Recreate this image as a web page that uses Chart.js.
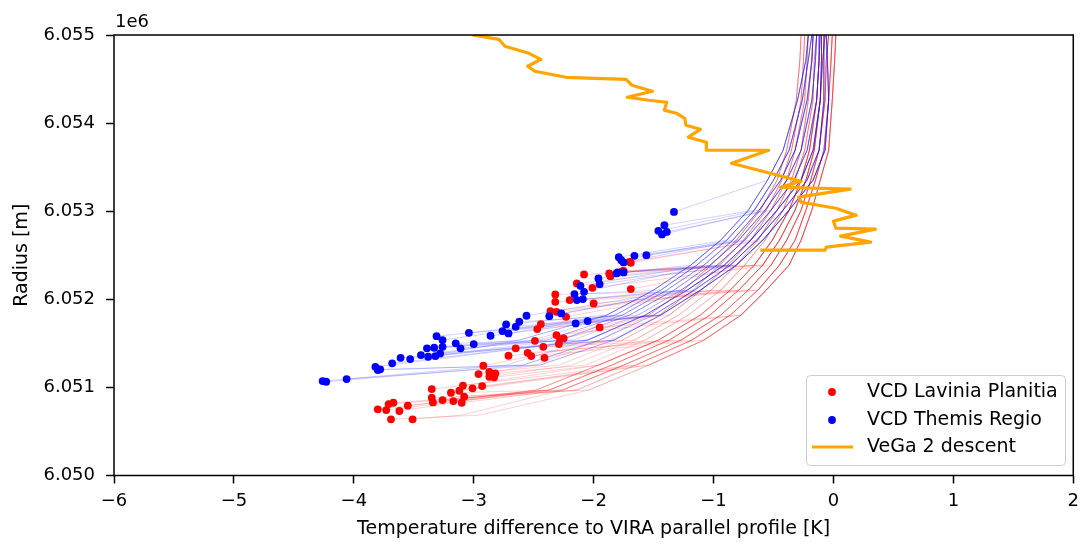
<!DOCTYPE html>
<html>
<head>
<meta charset="utf-8">
<script src="https://cdn.jsdelivr.net/npm/chart.js@4.4.1/dist/chart.umd.min.js"></script>
<style>
  html, body { margin: 0; padding: 0; background: #fff; }
  #chart { display: block; }
</style>
</head>
<body>
<canvas id="chart" width="1086" height="544"></canvas>
<script>
// axis ticks
var xTicks = [-6, -5, -4, -3, -2, -1, 0, 1, 2];
var xTickLabels = ['\u22126', '\u22125', '\u22124', '\u22123', '\u22122', '\u22121', '0', '1', '2'];
var yTicks = [6050000, 6051000, 6052000, 6053000, 6054000, 6055000];
var yTickLabels = ['6.050', '6.051', '6.052', '6.053', '6.054', '6.055'];
var seriesNames = ['VCD Lavinia Planitia', 'VCD Themis Regio', 'VeGa 2 descent'];

// surface points [temperature difference K, radius m]
var laviniaDots = [
    [-3.80, 6050751], [-3.73, 6050743], [-3.71, 6050811], [-3.67, 6050826], [-3.69, 6050638],
    [-3.62, 6050732], [-3.55, 6050792], [-3.51, 6050638], [-3.35, 6050981], [-3.35, 6050883],
    [-3.34, 6050830], [-3.26, 6050856], [-3.19, 6050939], [-3.17, 6050845], [-3.12, 6050962],
    [-3.09, 6051019], [-3.08, 6050894], [-3.10, 6050826], [-3.01, 6050989], [-2.93, 6051015],
    [-2.96, 6051151], [-2.92, 6051246], [-2.87, 6051177], [-2.87, 6051121], [-2.82, 6051159],
    [-2.83, 6051114], [-2.71, 6051359], [-2.65, 6051443], [-2.55, 6051393], [-2.52, 6051356],
    [-2.49, 6051529], [-2.47, 6051662], [-2.44, 6051719], [-2.42, 6051461], [-2.41, 6051336],
    [-2.36, 6051866], [-2.31, 6051858], [-2.32, 6052055], [-2.32, 6051971], [-2.31, 6051594],
    [-2.28, 6051545], [-2.25, 6051556], [-2.29, 6051492], [-2.23, 6051801], [-2.20, 6051991],
    [-2.14, 6052180], [-2.08, 6052282], [-2.01, 6052130], [-2.00, 6051953], [-1.95, 6051681],
    [-1.87, 6052294], [-1.86, 6052263], [-1.75, 6052323], [-1.69, 6052414], [-1.70, 6052425],
    [-1.69, 6052116], [-1.76, 6052320]
];
var themisDots = [
    [-4.26, 6051072], [-4.23, 6051064], [-4.06, 6051095], [-3.82, 6051234], [-3.80, 6051197],
    [-3.78, 6051205], [-3.68, 6051273], [-3.61, 6051336], [-3.53, 6051322], [-3.44, 6051367],
    [-3.39, 6051443], [-3.38, 6051348], [-3.33, 6051450], [-3.32, 6051356], [-3.31, 6051582],
    [-3.28, 6051386], [-3.26, 6051461], [-3.26, 6051537], [-3.15, 6051500], [-3.11, 6051443],
    [-3.04, 6051620], [-3.00, 6051492], [-2.86, 6051586], [-2.76, 6051639], [-2.73, 6051715],
    [-2.71, 6051613], [-2.65, 6051688], [-2.62, 6051745], [-2.56, 6051813], [-2.37, 6051809],
    [-2.27, 6051840], [-2.15, 6051726], [-2.05, 6051753], [-2.16, 6052059], [-2.11, 6052153],
    [-2.08, 6052085], [-2.09, 6052002], [-2.14, 6051991], [-1.96, 6052237], [-1.95, 6052172],
    [-1.81, 6052294], [-1.79, 6052478], [-1.77, 6052444], [-1.75, 6052418], [-1.66, 6052493],
    [-1.56, 6052501], [-1.80, 6052305], [-1.75, 6052305], [-1.33, 6052992], [-1.41, 6052841],
    [-1.46, 6052777], [-1.43, 6052736], [-1.39, 6052765]
];

var profileRadii = [6055000, 6054713, 6054259, 6053692, 6053352, 6053012, 6052671,
    6052388, 6052104, 6051821, 6051537, 6051253, 6050970, 6050686];

// Themis Regio profiles, temperature difference at each radius, left edge of bundle first
var themisBundle = [
    [-0.21, -0.23, -0.30, -0.42, -0.55, -0.71, -0.94, -1.19, -1.50, -1.89, -2.62, -3.45],
    [-0.18, -0.21, -0.26, -0.37, -0.50, -0.66, -0.89, -1.14, -1.44, -1.82, -2.50, -3.31],
    [-0.17, -0.18, -0.22, -0.32, -0.44, -0.62, -0.84, -1.08, -1.39, -1.76, -2.39, -3.17],
    [-0.14, -0.15, -0.18, -0.27, -0.39, -0.57, -0.79, -1.03, -1.33, -1.70, -2.28, -3.03],
    [-0.12, -0.12, -0.14, -0.22, -0.33, -0.52, -0.74, -0.97, -1.27, -1.63, -2.17, -2.88],
    [-0.10, -0.10, -0.11, -0.17, -0.27, -0.47, -0.69, -0.91, -1.22, -1.57, -2.05, -2.73],
    [-0.08, -0.08, -0.08, -0.12, -0.22, -0.42, -0.64, -0.86, -1.16, -1.50, -1.95, -2.59],
    [-0.06, -0.05, -0.04, -0.07, -0.17, -0.37, -0.59, -0.81, -1.11, -1.44, -1.83, -2.45]
];

// Lavinia Planitia profiles
var laviniaBundle = [
    [-0.27, -0.28, -0.31, -0.39, -0.47, -0.61, -0.81, -1.02, -1.25, -1.54, -1.95, -2.49, -3.03, -3.62],
    [-0.24, -0.25, -0.27, -0.35, -0.43, -0.56, -0.75, -0.95, -1.17, -1.45, -1.85, -2.39, -2.93, -3.54],
    [-0.21, -0.22, -0.24, -0.32, -0.39, -0.52, -0.69, -0.88, -1.10, -1.37, -1.76, -2.29, -2.82, -3.47],
    [-0.17, -0.18, -0.21, -0.27, -0.35, -0.47, -0.63, -0.81, -1.02, -1.29, -1.66, -2.18, -2.70, -3.40],
    [-0.14, -0.16, -0.17, -0.24, -0.32, -0.42, -0.57, -0.74, -0.94, -1.21, -1.57, -2.07, -2.59, -3.33],
    [-0.11, -0.12, -0.14, -0.20, -0.27, -0.37, -0.51, -0.66, -0.86, -1.11, -1.46, -1.96, -2.48, -3.24],
    [-0.07, -0.09, -0.11, -0.16, -0.23, -0.32, -0.45, -0.59, -0.79, -1.03, -1.37, -1.85, -2.37, -3.17],
    [-0.04, -0.06, -0.07, -0.12, -0.19, -0.27, -0.39, -0.52, -0.71, -0.94, -1.27, -1.75, -2.26, -3.10],
    [-0.01, -0.02, -0.04, -0.08, -0.15, -0.23, -0.32, -0.45, -0.63, -0.86, -1.18, -1.65, -2.14, -3.03],
    [0.02, 0.01, -0.01, -0.04, -0.11, -0.18, -0.27, -0.37, -0.56, -0.77, -1.08, -1.54, -2.04, -2.95]
];

// VeGa 2 descent
var vega2Descent = [
    [-3.01, 6055000], [-2.79, 6054951], [-2.74, 6054872], [-2.54, 6054792], [-2.44, 6054724],
    [-2.55, 6054645], [-2.49, 6054588], [-2.23, 6054520], [-1.73, 6054497], [-1.68, 6054429],
    [-1.51, 6054361], [-1.72, 6054293], [-1.54, 6054259], [-1.39, 6054237], [-1.41, 6054146],
    [-1.31, 6054112], [-1.24, 6054055], [-1.23, 6053976], [-1.11, 6053930], [-1.21, 6053840],
    [-1.06, 6053783], [-1.06, 6053692], [-0.54, 6053692], [-0.85, 6053545], [-0.27, 6053340],
    [-0.44, 6053272], [0.14, 6053250], [-0.29, 6053159], [-0.27, 6053102], [0.02, 6053034],
    [0.19, 6052955], [0.00, 6052887], [0.02, 6052807], [0.35, 6052796], [0.06, 6052717],
    [0.31, 6052649], [-0.06, 6052592], [-0.07, 6052558], [-0.61, 6052558]
];

function toXY(pts) {
    return pts.map(function (p) { return { x: p[0], y: p[1] }; });
}

// each dot runs to the bundle curve it is assigned, then up along it
function buildProfiles(dots, bundle, lowLimit, lowPicks) {
    return dots.map(function (d, i) {
        var k = d[1] < lowLimit ? lowPicks[i % lowPicks.length] : i % bundle.length;
        var curve = bundle[k].map(function (t, j) { return [t, profileRadii[j]]; });
        var tail = curve.filter(function (p) { return p[1] > d[1] + 20 && p[0] > d[0] + 0.05; });
        tail.sort(function (a, b) { return a[1] - b[1]; });
        return [d].concat(tail);
    });
}

var themisProfiles = buildProfiles(themisDots, themisBundle, 6051300, [5, 6, 7]);
var laviniaProfiles = buildProfiles(laviniaDots, laviniaBundle, 6051000, [5, 6, 7, 8, 9]);

Chart.defaults.font.family = 'DejaVu Sans';
Chart.defaults.font.size = 18;
Chart.defaults.color = '#000';

var datasets = [
    {
        label: seriesNames[1],
        data: toXY(themisDots),
        backgroundColor: '#0000ff',
        borderWidth: 0,
        pointRadius: 3.9,
        order: 0
    },
    {
        label: seriesNames[0],
        data: toXY(laviniaDots),
        backgroundColor: '#ff0000',
        borderWidth: 0,
        pointRadius: 3.9,
        order: 1
    },
    {
        label: seriesNames[2],
        data: toXY(vega2Descent),
        showLine: true,
        borderColor: '#ffa500',
        borderWidth: 3.2,
        borderJoinStyle: 'round',
        pointRadius: 0,
        order: 2
    }
];

themisProfiles.forEach(function (path) {
    datasets.push({
        data: toXY(path),
        showLine: true,
        borderColor: 'rgba(0, 0, 255, 0.3)',
        borderWidth: 0.6,
        pointRadius: 0,
        order: 3
    });
});
laviniaProfiles.forEach(function (path) {
    datasets.push({
        data: toXY(path),
        showLine: true,
        borderColor: 'rgba(255, 0, 0, 0.3)',
        borderWidth: 0.6,
        pointRadius: 0,
        order: 4
    });
});

// frame, offset text and legend box
var decorations = {
    id: 'decorations',
    afterDraw: function (chart) {
        var ctx = chart.ctx;
        var a = chart.chartArea;
        ctx.save();
        ctx.strokeStyle = '#000';
        ctx.lineWidth = 1.5;
        ctx.strokeRect(a.left, a.top, a.right - a.left, a.bottom - a.top);

        ctx.fillStyle = '#000';
        ctx.font = '18px "DejaVu Sans"';
        ctx.textBaseline = 'middle';
        ctx.textAlign = 'left';
        ctx.fillText('1e6', a.left + 1, 22);

        var bx = 806.5, by = 375.5, bw = 259, bh = 90;
        ctx.beginPath();
        ctx.roundRect(bx, by, bw, bh, 4);
        ctx.fillStyle = 'rgba(255, 255, 255, 0.8)';
        ctx.fill();
        ctx.strokeStyle = '#cccccc';
        ctx.lineWidth = 1;
        ctx.stroke();

        var rows = [392, 420, 447];
        ctx.fillStyle = '#ff0000';
        ctx.beginPath();
        ctx.arc(832, rows[0], 3.9, 0, Math.PI * 2);
        ctx.fill();
        ctx.fillStyle = '#0000ff';
        ctx.beginPath();
        ctx.arc(832, rows[1], 3.9, 0, Math.PI * 2);
        ctx.fill();
        ctx.strokeStyle = '#ffa500';
        ctx.lineWidth = 3.2;
        ctx.beginPath();
        ctx.moveTo(812, rows[2]);
        ctx.lineTo(853, rows[2]);
        ctx.stroke();

        ctx.fillStyle = '#000';
        ctx.font = '19px "DejaVu Sans"';
        seriesNames.forEach(function (name, i) {
            ctx.fillText(name, 867, rows[i]);
        });
        ctx.restore();
    }
};

new Chart(document.getElementById('chart'), {
    type: 'scatter',
    data: { datasets: datasets },
    options: {
        responsive: false,
        animation: false,
        events: [],
        layout: { padding: { left: 0, top: 35, right: 11, bottom: 0 } },
        plugins: {
            legend: { display: false },
            tooltip: { enabled: false }
        },
        scales: {
            x: {
                type: 'linear',
                min: -6,
                max: 2,
                afterBuildTicks: function (s) {
                    s.ticks = xTicks.map(function (v) { return { value: v }; });
                },
                afterFit: function (s) { s.height = 68.5; },
                ticks: {
                    padding: 7,
                    maxRotation: 0,
                    callback: function (v, i) { return xTickLabels[i]; }
                },
                grid: {
                    drawOnChartArea: false,
                    drawTicks: true,
                    tickLength: 8,
                    tickWidth: 1.5,
                    tickColor: '#000'
                },
                border: { display: false },
                title: {
                    display: true,
                    text: 'Temperature difference to VIRA parallel profile [K]',
                    font: { size: 19 },
                    padding: { top: 0, bottom: 4 }
                }
            },
            y: {
                type: 'linear',
                min: 6050000,
                max: 6055000,
                afterBuildTicks: function (s) {
                    s.ticks = yTicks.map(function (v) { return { value: v }; });
                },
                afterFit: function (s) { s.width = 114; },
                ticks: {
                    padding: 11,
                    callback: function (v, i) { return yTickLabels[i]; }
                },
                grid: {
                    drawOnChartArea: false,
                    drawTicks: true,
                    tickLength: 8,
                    tickWidth: 1.5,
                    tickColor: '#000'
                },
                border: { display: false },
                title: {
                    display: true,
                    text: 'Radius [m]',
                    font: { size: 19 },
                    padding: { top: 11, bottom: 0 }
                }
            }
        }
    },
    plugins: [decorations]
});
</script>
</body>
</html>
